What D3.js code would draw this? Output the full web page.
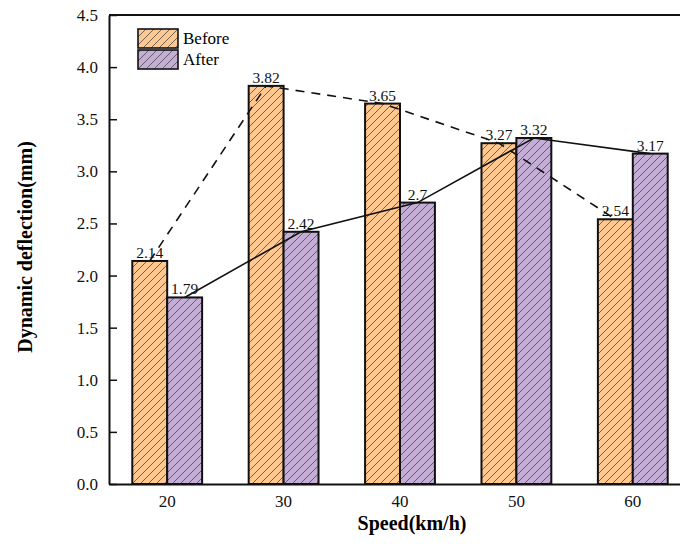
<!DOCTYPE html>
<html>
<head>
<meta charset="utf-8">
<style>
  body { margin: 0; background: #fff; overflow: hidden; }
  svg { display: block; }
</style>
<script src="https://d3js.org/d3.v7.min.js"></script>
</head>
<body>
<div id="chart"></div>
<script>
// data
var speeds = ["20", "30", "40", "50", "60"];
var before = [2.14, 3.82, 3.65, 3.27, 2.54];
var after = [1.79, 2.42, 2.7, 3.32, 3.17];
var seriesNames = ["Before", "After"];
var yTicks = [0, 0.5, 1, 1.5, 2, 2.5, 3, 3.5, 4, 4.5];

var W = 680, H = 544;
var mLeft = 109, mTop = 15, mRight = 691, mBottom = 484;
var serif = "'Liberation Serif', 'Times New Roman', serif";

var svg = d3.select("#chart").append("svg")
    .attr("width", W)
    .attr("height", H);

// hatch patterns
var defs = svg.append("defs");
var fills = { Before: "#ffc891", After: "#c4aed6" };
seriesNames.forEach(function(s) {
    var p = defs.append("pattern")
        .attr("id", "hatch-" + s)
        .attr("patternUnits", "userSpaceOnUse")
        .attr("width", 8).attr("height", 8);
    p.append("rect").attr("width", 8).attr("height", 8).attr("fill", fills[s]);
    p.append("path")
        .attr("d", "M-2,2 L2,-2 M0,8 L8,0 M6,10 L10,6")
        .attr("stroke", "#4a4a4a")
        .attr("stroke-width", 0.8);
});

var x = d3.scaleBand().domain(speeds).range([mLeft, mRight]).paddingInner(0.4).paddingOuter(0.2);
var xs = d3.scaleBand().domain(seriesNames).range([0, x.bandwidth()]);
var y = d3.scaleLinear().domain([0, 4.5]).range([mBottom, mTop]);

var rows = speeds.map(function(s, i) { return { speed: s, Before: before[i], After: after[i] }; });

// bars
var g = svg.append("g");
rows.forEach(function(r) {
    seriesNames.forEach(function(s) {
        g.append("rect")
            .attr("x", x(r.speed) + xs(s))
            .attr("y", y(r[s]))
            .attr("width", xs.bandwidth())
            .attr("height", y(0) - y(r[s]))
            .attr("fill", "url(#hatch-" + s + ")")
            .attr("stroke", "#111")
            .attr("stroke-width", 2);
    });
});

// connecting lines
function lineFor(s) {
    return d3.line()
        .x(function(d) { return x(d.speed) + xs(s) + xs.bandwidth() / 2; })
        .y(function(d) { return y(d[s]); });
}
svg.append("path").datum(rows)
    .attr("d", lineFor("Before"))
    .attr("fill", "none").attr("stroke", "#111").attr("stroke-width", 1.6)
    .attr("stroke-dasharray", "9,7");
svg.append("path").datum(rows)
    .attr("d", lineFor("After"))
    .attr("fill", "none").attr("stroke", "#111").attr("stroke-width", 1.6);

// value labels
rows.forEach(function(r) {
    seriesNames.forEach(function(s) {
        svg.append("text")
            .attr("x", x(r.speed) + xs(s) + xs.bandwidth() / 2)
            .attr("y", y(r[s]) - 3)
            .attr("text-anchor", "middle")
            .style("font-family", serif).style("font-size", "15.5px").style("fill", "#111")
            .text(r[s]);
    });
});

// axes
var yAxis = d3.axisLeft(y).tickValues(yTicks).tickFormat(d3.format(".1f"))
    .tickSizeInner(-8).tickSizeOuter(0).tickPadding(11);
var ya = svg.append("g").attr("transform", "translate(" + mLeft + ",0)").call(yAxis);
ya.selectAll("line").attr("stroke", "#111").attr("stroke-width", 1.5);
ya.select(".domain").attr("stroke", "#111").attr("stroke-width", 2);
ya.selectAll("text").style("font-family", serif).style("font-size", "17px").style("fill", "#111");

var xAxis = d3.axisBottom(x).tickSize(0).tickPadding(11);
var xa = svg.append("g").attr("transform", "translate(0," + mBottom + ")").call(xAxis);
xa.select(".domain").attr("stroke", "#111").attr("stroke-width", 2);
xa.selectAll("text").style("font-family", serif).style("font-size", "17px").style("fill", "#111");

svg.append("line")
    .attr("x1", mLeft).attr("x2", mRight).attr("y1", mTop).attr("y2", mTop)
    .attr("stroke", "#111").attr("stroke-width", 2);

// axis titles
svg.append("text")
    .attr("x", 412).attr("y", 530)
    .attr("text-anchor", "middle")
    .style("font-family", serif).style("font-size", "20px").style("font-weight", "bold")
    .text("Speed(km/h)");
svg.append("text")
    .attr("transform", "translate(32,247) rotate(-90)")
    .attr("text-anchor", "middle")
    .style("font-family", serif).style("font-size", "20px").style("font-weight", "bold")
    .text("Dynamic deflection(mm)");

// legend
var lg = svg.append("g").attr("transform", "translate(138,29)");
seriesNames.forEach(function(s, i) {
    lg.append("rect")
        .attr("x", 0).attr("y", i * 21)
        .attr("width", 40).attr("height", 19)
        .attr("fill", "url(#hatch-" + s + ")")
        .attr("stroke", "#111").attr("stroke-width", 1.6);
    lg.append("text")
        .attr("x", 45).attr("y", i * 21 + 15)
        .style("font-family", serif).style("font-size", "17px")
        .text(s);
});
</script>
</body>
</html>
